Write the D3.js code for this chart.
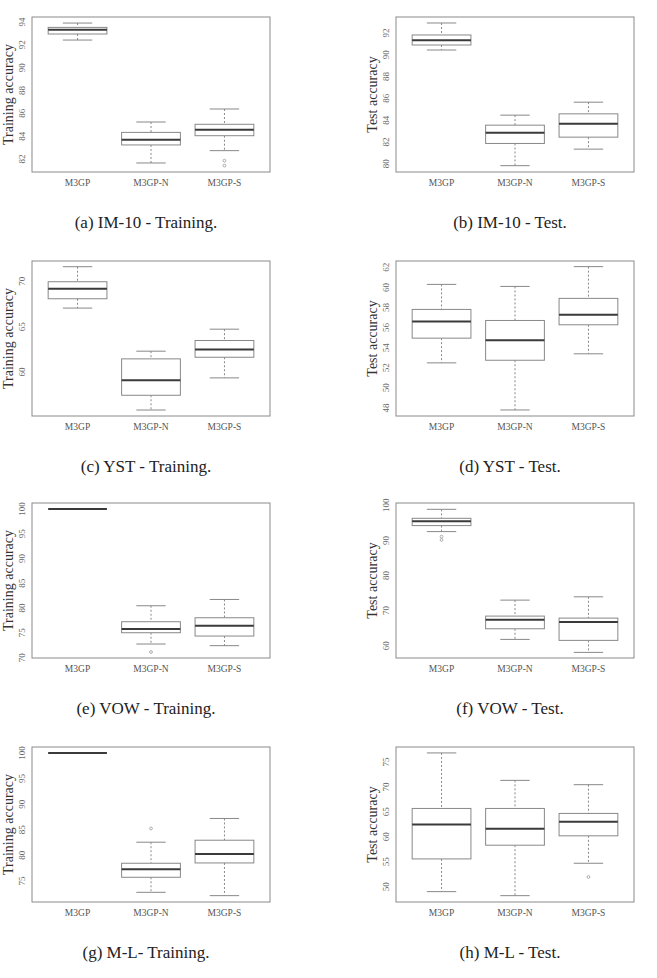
<!DOCTYPE html>
<html>
<head>
<meta charset="utf-8">
<script src="https://cdn.jsdelivr.net/npm/d3@7"></script>
<style>
  body { margin: 0; background: #fff; }
  svg text { font-family: "Liberation Serif", "DejaVu Serif", serif; }
</style>
</head>
<body>
<svg id="fig" width="657" height="978"></svg>
<script>
// box stats per method: [lower whisker, q1, median, q3, upper whisker]
const methods = ["M3GP", "M3GP-N", "M3GP-S"];

const imTrain    = [[92.42, 92.95, 93.33, 93.53, 93.91], [81.65, 83.23, 83.69, 84.33, 85.24], [82.73, 84.04, 84.57, 85.04, 86.38]];
const imTrainOut = [[], [], [81.85, 81.42]];
const imTest     = [[90.44, 90.90, 91.33, 91.82, 92.92], [79.82, 81.86, 82.84, 83.54, 84.46], [81.34, 82.44, 83.66, 84.58, 85.65]];
const imTestOut  = [[], [], []];

const ystTrain    = [[67.05, 68.08, 69.19, 69.96, 71.62], [55.79, 57.42, 59.08, 61.44, 62.29], [59.34, 61.62, 62.47, 63.47, 64.72]];
const ystTrainOut = [[], [], []];
const ystTest     = [[52.49, 54.95, 56.61, 57.81, 60.30], [47.80, 52.75, 54.75, 56.71, 60.10], [53.39, 56.28, 57.28, 58.91, 62.07]];
const ystTestOut  = [[], [], []];

const vowTrain    = [[100, 100, 100, 100, 100], [72.75, 75.03, 75.77, 77.25, 80.47], [72.42, 74.36, 76.44, 78.05, 81.74]];
const vowTrainOut = [[], [71.14], []];
const vowTest     = [[92.51, 94.22, 95.45, 96.30, 98.86], [61.80, 64.83, 67.39, 68.44, 72.99], [58.10, 61.52, 66.73, 67.87, 73.93]];
const vowTestOut  = [[91.09, 90.14], [], []];

const mlTrain    = [[100, 100, 100, 100, 100], [72.78, 75.72, 77.29, 78.46, 82.57], [72.13, 78.52, 80.29, 82.96, 87.21]];
const mlTrainOut = [[], [85.25], []];
const mlTest     = [[49.0, 55.56, 62.47, 65.68, 76.81], [48.19, 58.31, 61.6, 65.68, 71.31], [54.69, 60.19, 63.0, 64.68, 70.44]];
const mlTestOut  = [[], [], [51.94]];

const captions = ["(a) IM-10 - Training.", "(b) IM-10 - Test.", "(c) YST - Training.", "(d) YST - Test.",
                  "(e) VOW - Training.", "(f) VOW - Test.", "(g) M-L- Training.", "(h) M-L - Test."];
const yLabels  = ["Training accuracy", "Test accuracy"];

const yDomains = [[80.86, 94.44], [79.24, 93.47], [55.13, 72.25], [47.2, 62.63],
                  [69.93, 101.2], [56.5, 100.66], [70.89, 101.17], [46.92, 78.0]];
const yTicks = [[82, 84, 86, 88, 90, 92, 94], [80, 82, 84, 86, 88, 90, 92], [60, 65, 70], [48, 50, 52, 54, 56, 58, 60, 62],
                [70, 75, 80, 85, 90, 95, 100], [60, 70, 80, 90, 100], [75, 80, 85, 90, 95, 100], [50, 55, 60, 65, 70, 75]];

const stats    = [imTrain, imTest, ystTrain, ystTest, vowTrain, vowTest, mlTrain, mlTest];
const outliers = [imTrainOut, imTestOut, ystTrainOut, ystTestOut, vowTrainOut, vowTestOut, mlTrainOut, mlTestOut];

const svg = d3.select("#fig");

const colLeft = [32, 396];
const plotW = 238;
const rowTop = [17, 261, 503, 747];
const plotH = 155;

stats.forEach((panel, i) => {
  const col = i % 2, row = Math.floor(i / 2);
  const x0 = colLeft[col], y0 = rowTop[row];

  const g = svg.append("g").attr("transform", `translate(${x0},${y0})`);

  const x = d3.scaleLinear().domain([0.38, 3.62]).range([0, plotW]);
  const y = d3.scaleLinear().domain(yDomains[i]).range([plotH, 0]);

  // frame
  g.append("rect")
    .attr("x", 0).attr("y", 0)
    .attr("width", plotW).attr("height", plotH)
    .attr("fill", "none").attr("stroke", "#8a8a8a").attr("stroke-width", 1);

  // y tick labels (parallel to axis, R style)
  g.selectAll("text.ytick")
    .data(yTicks[i]).enter().append("text")
      .attr("class", "ytick")
      .attr("transform", d => `translate(-7,${y(d)}) rotate(-90)`)
      .attr("text-anchor", "middle")
      .attr("font-size", "9px")
      .attr("fill", "#666")
      .text(d => d);

  // y label
  g.append("text")
    .attr("transform", `translate(-19,${plotH / 2}) rotate(-90)`)
    .attr("text-anchor", "middle")
    .attr("font-size", "14px")
    .attr("fill", "#333")
    .text(yLabels[col]);

  // x labels
  g.selectAll("text.xlab")
    .data(methods).enter().append("text")
      .attr("class", "xlab")
      .attr("x", (d, j) => x(j + 1))
      .attr("y", plotH + 14)
      .attr("text-anchor", "middle")
      .attr("font-size", "9.5px")
      .attr("fill", "#555")
      .text(d => d);

  panel.forEach((s, j) => {
    const cx = x(j + 1);
    const bw = x(1.4) - x(1);
    const cw = x(1.2) - x(1);
    const [lo, q1, med, q3, hi] = s;
    const bg = g.append("g");

    // whiskers
    bg.append("line")
      .attr("x1", cx).attr("x2", cx).attr("y1", y(hi)).attr("y2", y(q3))
      .attr("stroke", "#888").attr("stroke-dasharray", "2,2");
    bg.append("line")
      .attr("x1", cx).attr("x2", cx).attr("y1", y(q1)).attr("y2", y(lo))
      .attr("stroke", "#888").attr("stroke-dasharray", "2,2");
    // staples
    [lo, hi].forEach(v => {
      bg.append("line")
        .attr("x1", cx - cw).attr("x2", cx + cw).attr("y1", y(v)).attr("y2", y(v))
        .attr("stroke", "#888");
    });
    // box
    bg.append("rect")
      .attr("x", cx - bw).attr("y", y(q3))
      .attr("width", 2 * bw).attr("height", Math.max(0, y(q1) - y(q3)))
      .attr("fill", "#fff").attr("stroke", "#888");
    // median
    bg.append("line")
      .attr("x1", cx - bw).attr("x2", cx + bw).attr("y1", y(med)).attr("y2", y(med))
      .attr("stroke", "#3a3a3a").attr("stroke-width", 2);

    // outliers
    bg.selectAll("circle")
      .data(outliers[i][j]).enter().append("circle")
        .attr("cx", cx).attr("cy", d => y(d)).attr("r", 1.4)
        .attr("fill", "none").attr("stroke", "#999").attr("stroke-width", 0.8);
  });

  // caption
  svg.append("text")
    .attr("x", col === 0 ? 146 : 510)
    .attr("y", y0 + 211)
    .attr("text-anchor", "middle")
    .attr("font-size", "17px")
    .attr("fill", "#222")
    .text(captions[i]);
});
</script>
</body>
</html>
